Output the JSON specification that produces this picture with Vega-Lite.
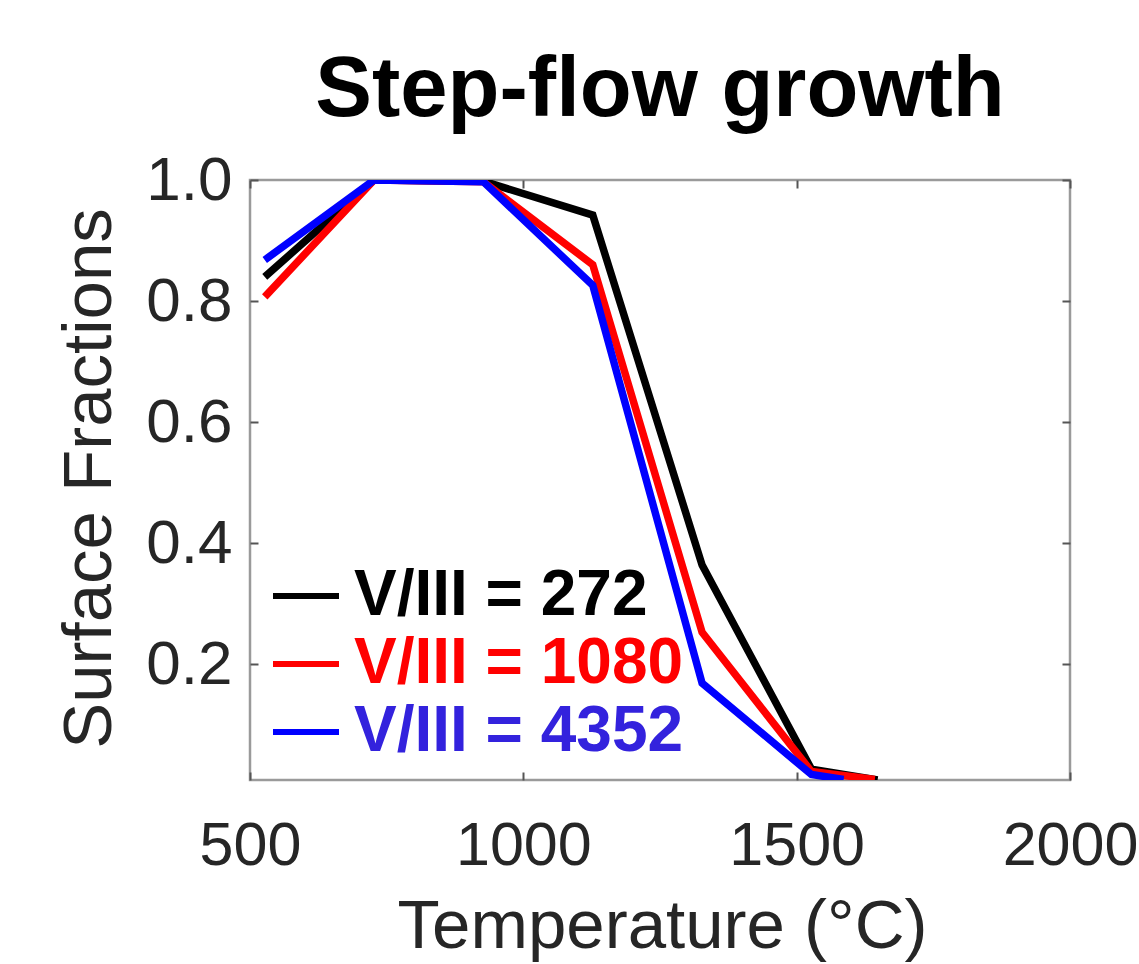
{
  "$schema": "https://vega.github.io/schema/vega-lite/v6.json",
  "width": 820,
  "height": 600,
  "autosize": {"type": "none"},
  "padding": {"left": 250, "top": 180, "right": 69, "bottom": 184},
  "background": "white",
  "title": {
    "text": "Step-flow growth",
    "font": "Liberation Sans",
    "fontSize": 85,
    "fontWeight": "bold",
    "color": "#000000",
    "baseline": "alphabetic",
    "frame": "group",
    "offset": 65,
    "dy": 117,
    "anchor": "middle"
  },
  "config": {
    "view": {"stroke": "#9a9a9a", "strokeWidth": 2.5},
    "axis": {
      "domain": false,
      "grid": false,
      "labelFont": "Liberation Sans",
      "titleFont": "Liberation Sans",
      "labelColor": "#262626",
      "titleColor": "#262626",
      "titleFontWeight": "normal",
      "tickColor": "#555555",
      "tickWidth": 2,
      "tickSize": -8
    }
  },
  "data": {
    "values": [
      {"series": "V/III = 272", "T": 527, "frac": 0.84},
      {"series": "V/III = 272", "T": 727, "frac": 1.0},
      {"series": "V/III = 272", "T": 927, "frac": 0.998},
      {"series": "V/III = 272", "T": 1127, "frac": 0.942},
      {"series": "V/III = 272", "T": 1327, "frac": 0.364},
      {"series": "V/III = 272", "T": 1527, "frac": 0.027},
      {"series": "V/III = 272", "T": 1648, "frac": 0.009},
      {"series": "V/III = 1080", "T": 527, "frac": 0.807},
      {"series": "V/III = 1080", "T": 727, "frac": 1.0},
      {"series": "V/III = 1080", "T": 927, "frac": 0.997},
      {"series": "V/III = 1080", "T": 1127, "frac": 0.86},
      {"series": "V/III = 1080", "T": 1327, "frac": 0.253},
      {"series": "V/III = 1080", "T": 1527, "frac": 0.023},
      {"series": "V/III = 1080", "T": 1643, "frac": 0.01},
      {"series": "V/III = 4352", "T": 527, "frac": 0.868},
      {"series": "V/III = 4352", "T": 727, "frac": 1.0},
      {"series": "V/III = 4352", "T": 927, "frac": 0.997},
      {"series": "V/III = 4352", "T": 1127, "frac": 0.826},
      {"series": "V/III = 4352", "T": 1327, "frac": 0.169},
      {"series": "V/III = 4352", "T": 1527, "frac": 0.018},
      {"series": "V/III = 4352", "T": 1586, "frac": 0.01}
    ]
  },
  "layer": [
    {
      "mark": {"type": "line", "strokeWidth": 7.5, "strokeCap": "butt", "strokeJoin": "miter", "clip": true},
      "encoding": {
        "x": {
          "field": "T", "type": "quantitative",
          "scale": {"domain": [500, 2000], "nice": false, "zero": false},
          "axis": {
            "orient": "bottom",
            "values": [500, 1000, 1500, 2000],
            "format": "d",
            "labelFontSize": 61,
            "labelPadding": 44,
            "labelFlush": false,
            "title": "Temperature (°C)",
            "titleFontSize": 69,
            "titleBaseline": "alphabetic",
            "titleY": 167,
            "titleX": 412
          }
        },
        "y": {
          "field": "frac", "type": "quantitative",
          "scale": {"domain": [0.009, 1], "nice": false, "zero": false},
          "axis": {
            "orient": "left",
            "values": [0.2, 0.4, 0.6, 0.8, 1.0],
            "format": ".1f",
            "labelFontSize": 62,
            "labelPadding": 26,
            "labelFlush": false,
            "title": "Surface Fractions",
            "titleFontSize": 69,
            "titleBaseline": "alphabetic",
            "titleAngle": -90,
            "titleX": -140,
            "titleY": 298
          }
        },
        "color": {
          "field": "series", "type": "nominal",
          "sort": ["V/III = 272", "V/III = 1080", "V/III = 4352"],
          "scale": {"domain": ["V/III = 272", "V/III = 1080", "V/III = 4352"], "range": ["#000000", "#ff0000", "#0000ff"]},
          "legend": {
            "title": null,
            "orient": "none",
            "legendX": 20,
            "legendY": 380,
            "padding": 0,
            "symbolType": "stroke",
            "symbolSize": 4356,
            "symbolStrokeWidth": 6,
            "labelFont": "Liberation Sans",
            "labelFontSize": 64,
            "labelFontWeight": "bold",
            "labelOffset": 12,
            "rowPadding": -2,
            "labelLimit": 600,
            "encode": {
              "labels": {"update": {"fill": {"signal": "datum.value == 'V/III = 272' ? '#000000' : datum.value == 'V/III = 1080' ? '#ff0000' : '#3322dd'"}}},
              "symbols": {"update": {"stroke": {"signal": "datum.value == 'V/III = 272' ? '#000000' : datum.value == 'V/III = 1080' ? '#ff0000' : '#3322dd'"}}}
            }
          }
        },
        "order": {"field": "T", "type": "quantitative"}
      }
    },
    {
      "mark": {"type": "point", "opacity": 0},
      "encoding": {
        "x": {
          "field": "T", "type": "quantitative",
          "axis": {"orient": "top", "values": [500, 1000, 1500, 2000], "labels": false, "title": null}
        },
        "y": {
          "field": "frac", "type": "quantitative",
          "axis": {"orient": "right", "values": [0.2, 0.4, 0.6, 0.8, 1.0], "labels": false, "title": null}
        }
      }
    }
  ],
  "resolve": {"axis": {"x": "independent", "y": "independent"}}
}
